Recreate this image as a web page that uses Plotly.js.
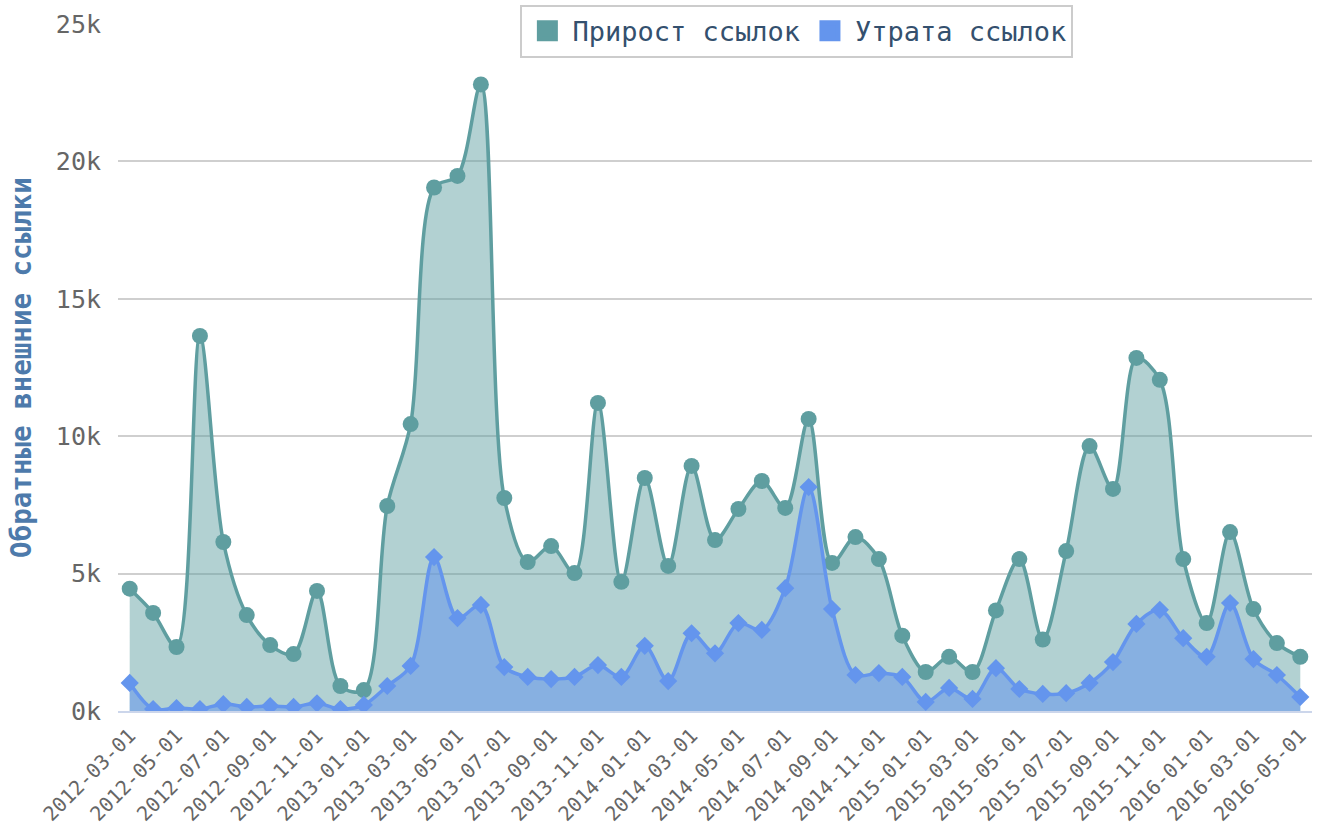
<!DOCTYPE html>
<html>
<head>
<meta charset="utf-8">
<script src="https://cdn.plot.ly/plotly-3.0.1.min.js"></script>
<style>html,body{margin:0;padding:0;background:#fff;}#chart{width:1322px;height:823px;}</style>
</head>
<body>
<div id="chart"></div>
<script>
const months = ["2012-03-01","2012-04-01","2012-05-01","2012-06-01","2012-07-01","2012-08-01","2012-09-01","2012-10-01","2012-11-01","2012-12-01",
"2013-01-01","2013-02-01","2013-03-01","2013-04-01","2013-05-01","2013-06-01","2013-07-01","2013-08-01","2013-09-01","2013-10-01","2013-11-01","2013-12-01",
"2014-01-01","2014-02-01","2014-03-01","2014-04-01","2014-05-01","2014-06-01","2014-07-01","2014-08-01","2014-09-01","2014-10-01","2014-11-01","2014-12-01",
"2015-01-01","2015-02-01","2015-03-01","2015-04-01","2015-05-01","2015-06-01","2015-07-01","2015-08-01","2015-09-01","2015-10-01","2015-11-01","2015-12-01",
"2016-01-01","2016-02-01","2016-03-01","2016-04-01","2016-05-01"];
const gained = [4450,3570,2330,13650,6150,3490,2400,2070,4370,910,
760,7460,10440,19050,19470,22800,7750,5420,6000,5020,11210,4700,
8480,5280,8920,6220,7350,8370,7390,10630,5390,6330,5530,2740,
1420,1970,1420,3660,5530,2600,5820,9640,8080,12850,12050,5530,
3200,6510,3710,2470,1970];
const lost = [1020,70,110,70,250,150,180,150,280,70,
220,910,1640,5600,3380,3860,1600,1240,1160,1240,1670,1240,
2370,1090,2830,2100,3200,2950,4470,8150,3710,1310,1380,1240,
330,840,440,1560,800,620,650,1020,1780,3170,3680,2650,
1970,3930,1890,1310,510];
const seriesNames = ["Прирост ссылок","Утрата ссылок"];
const yTickVals = [0,5000,10000,15000,20000,25000];
const yTickText = ["0k","5k","10k","15k","20k","25k"];
const yTitle = "Обратные внешние ссылки";

const green = "#5f9ea0", blue = "#6495ed";
const mono = "DejaVu Sans Mono";
const labelIdx = months.map((m,i)=>i).filter(i=>i%2===0);
const xTickVals = labelIdx.map(i=>months[i]);
const boundaryTicks = [-0.5].concat(months.map((m,i)=>i).filter(i=>i%2===1).map(i=>i-0.5)).concat([months.length-0.5]);

const traces = [
  {x: months, y: gained, type:"scatter", mode:"lines+markers", name: seriesNames[0], showlegend:false,
   line:{color:green, width:3.5, shape:"spline", smoothing:0.9}, marker:{color:green, size:16, symbol:"circle"},
   fill:"tozeroy", fillcolor:"rgba(95,158,160,0.48)", hoverinfo:"x+y"},
  {x: months, y: lost, type:"scatter", mode:"lines+markers", name: seriesNames[1], showlegend:false,
   line:{color:blue, width:3.5, shape:"spline", smoothing:0.9}, marker:{color:blue, size:14, symbol:"diamond"},
   fill:"tozeroy", fillcolor:"rgba(100,149,237,0.55)", hoverinfo:"x+y"},
  {x:[null], y:[null], type:"scatter", mode:"markers", name: seriesNames[0], showlegend:true,
   marker:{color:green, size:30, symbol:"square", line:{color:green, width:6}}},
  {x:[null], y:[null], type:"scatter", mode:"markers", name: seriesNames[1], showlegend:true,
   marker:{color:blue, size:30, symbol:"square", line:{color:blue, width:6}}}
];

const layout = {
  width:1322, height:823,
  margin:{l:118, r:10, t:24, b:112, autoexpand:false},
  paper_bgcolor:"#fff", plot_bgcolor:"#fff",
  font:{family:mono, color:"#666"},
  xaxis:{type:"category", range:[-0.5, months.length-0.5], tickmode:"array", tickvals:xTickVals, ticktext:xTickVals,
         tickangle:-45, tickfont:{family:mono, size:20, color:"#666"}, ticks:"", showgrid:false, zeroline:false,
         showline:true, linecolor:"#ccd6eb", linewidth:2, ticklabelstandoff:3, automargin:false},
  xaxis2:{type:"linear", overlaying:"x", anchor:"y", side:"bottom", range:[-0.5, months.length-0.5],
          tickmode:"array", tickvals:boundaryTicks, ticks:"outside", ticklen:9, tickwidth:2, tickcolor:"#ccd6eb",
          showticklabels:false, showgrid:false, zeroline:false, showline:false},
  yaxis:{range:[0,25000], tickmode:"array", tickvals:yTickVals, ticktext:yTickText,
         tickfont:{family:mono, size:25, color:"#666"}, gridcolor:"#cfcfcf", gridwidth:2, zeroline:false,
         showline:false, ticks:"", ticklabelstandoff:16, automargin:false,
         title:{text:yTitle, font:{family:mono, size:27.5, color:"#4d7aab", weight:"bold"}, standoff:16}},
  legend:{orientation:"h", x:0.337, xanchor:"left", y:1.028, yanchor:"top", bgcolor:"#fff",
          bordercolor:"#cccccc", borderwidth:2, font:{family:mono, size:27, color:"#34506e"},
          itemwidth:40, tracegroupgap:0},
  showlegend:true
};
Plotly.newPlot("chart", traces, layout, {displayModeBar:false, staticPlot:true});
</script>
</body>
</html>
